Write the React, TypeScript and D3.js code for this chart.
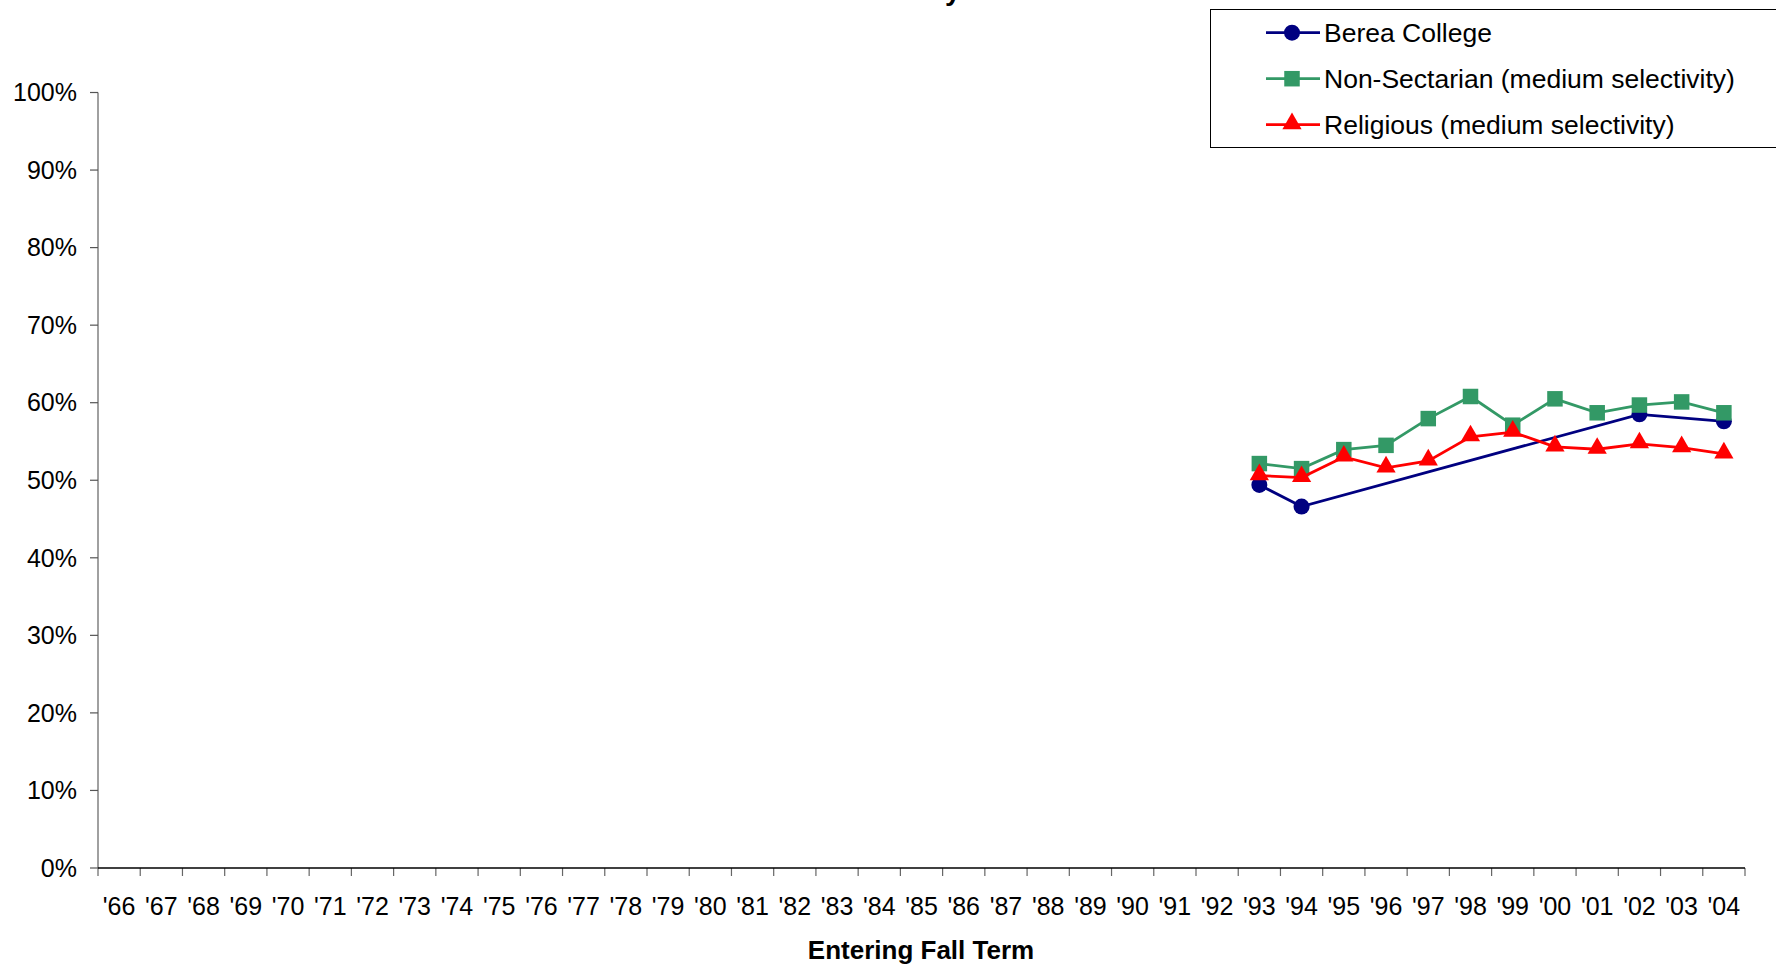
import React from "react";
import * as d3 from "d3";

const years: string[] = [
  "'66","'67","'68","'69","'70","'71","'72","'73","'74","'75","'76","'77","'78","'79",
  "'80","'81","'82","'83","'84","'85","'86","'87","'88","'89","'90","'91","'92","'93",
  "'94","'95","'96","'97","'98","'99","'00","'01","'02","'03","'04",
];
const dataYears: string[] = ["'93","'94","'95","'96","'97","'98","'99","'00","'01","'02","'03","'04"];
const bereaValues: (number | null)[] = [49.4, 46.6, null, null, null, null, null, null, null, 58.5, null, 57.6];
const nonSectarianValues: (number | null)[] = [52.15, 51.5, 53.95, 54.5, 57.95, 60.8, 57.1, 60.5, 58.7, 59.7, 60.1, 58.7];
const religiousValues: (number | null)[] = [50.6, 50.35, 53.0, 51.6, 52.5, 55.6, 56.2, 54.3, 54.0, 54.7, 54.2, 53.4];
const yTicks: number[] = [0, 10, 20, 30, 40, 50, 60, 70, 80, 90, 100];
const seriesNames: string[] = ["Berea College", "Non-Sectarian (medium selectivity)", "Religious (medium selectivity)"];

const W = 1776;
const H = 965;
const FONT = "'Liberation Sans', Arial, Helvetica, sans-serif";

const x = d3.scaleBand<string>().domain(years).range([98, 1745]).padding(0);
const y = d3.scaleLinear().domain([0, 100]).range([868, 92.5]);

type Series = { name: string; values: (number | null)[]; color: string; marker: "circle" | "square" | "triangle" };
const series: Series[] = [
  { name: seriesNames[0], values: bereaValues, color: "#000080", marker: "circle" },
  { name: seriesNames[1], values: nonSectarianValues, color: "#339966", marker: "square" },
  { name: seriesNames[2], values: religiousValues, color: "#FF0000", marker: "triangle" },
];

function Marker({ kind, cx, cy, color }: { kind: string; cx: number; cy: number; color: string }) {
  if (kind === "circle") return <circle cx={cx} cy={cy} r={8} fill={color} />;
  if (kind === "square") return <rect x={cx - 7.75} y={cy - 7.75} width={15.5} height={15.5} fill={color} />;
  const sym = d3.symbol().type(d3.symbolTriangle).size(160)();
  return <path d={sym || ""} transform={`translate(${cx},${cy - 1})`} fill={color} />;
}

export default function App() {
  const cx = (k: string) => (x(k) as number) + x.bandwidth() / 2;
  const line = d3.line<[number, number]>().x((d) => d[0]).y((d) => d[1]);
  const ticksX = years.map((k) => x(k) as number).concat([x.range()[1]]);
  return (
    <svg width={W} height={H} style={{ position: "absolute", left: 0, top: 0, background: "#fff" }} fontFamily={FONT}>
      <rect x={0} y={0} width={W} height={H} fill="#fff" />
      {/* title (cut off at top in the reference) */}
      <text x={945} y={-0.5} fontSize={28} fontWeight="bold" fill="#000">y</text>

      {/* y axis */}
      <line x1={98} x2={98} y1={y(100)} y2={y(0)} stroke="#808080" strokeWidth={1.5} />
      {yTicks.map((t) => (
        <g key={t}>
          <line x1={90} x2={98} y1={y(t)} y2={y(t)} stroke="#555" strokeWidth={1.2} />
          <text x={77} y={y(t)} dy="0.35em" textAnchor="end" fontSize={25} fill="#000">{`${t}%`}</text>
        </g>
      ))}

      {/* x axis */}
      {ticksX.map((t, i) => (
        <line key={i} x1={t} x2={t} y1={868} y2={876} stroke="#666" strokeWidth={1.2} />
      ))}
      <line x1={98} x2={1745} y1={868} y2={868} stroke="#000" strokeWidth={1.5} />
      {years.map((k) => (
        <text key={k} x={cx(k)} y={915} textAnchor="middle" fontSize={25} fill="#000">{k}</text>
      ))}
      <text x={921} y={959} textAnchor="middle" fontSize={26} fontWeight="bold" fill="#000">Entering Fall Term</text>

      {/* series */}
      {series.map((s) => {
        const pts: [number, number][] = [];
        s.values.forEach((v, i) => {
          if (v !== null) pts.push([cx(dataYears[i]), y(v)]);
        });
        return (
          <g key={s.name}>
            <path d={line(pts) || ""} fill="none" stroke={s.color} strokeWidth={2.8} />
            {pts.map((p, i) => (
              <Marker key={i} kind={s.marker} cx={p[0]} cy={p[1]} color={s.color} />
            ))}
          </g>
        );
      })}

      {/* legend */}
      <rect x={1210.5} y={9.5} width={620} height={138} fill="#fff" stroke="#000" strokeWidth={1} />
      {series.map((s, i) => {
        const ly = 32.7 + i * 46;
        return (
          <g key={s.name}>
            <line x1={1266} x2={1320} y1={ly} y2={ly} stroke={s.color} strokeWidth={2.8} />
            <Marker kind={s.marker} cx={1292} cy={ly} color={s.color} />
            <text x={1324} y={ly} dy="0.35em" fontSize={26.5} fill="#000">{s.name}</text>
          </g>
        );
      })}
    </svg>
  );
}
